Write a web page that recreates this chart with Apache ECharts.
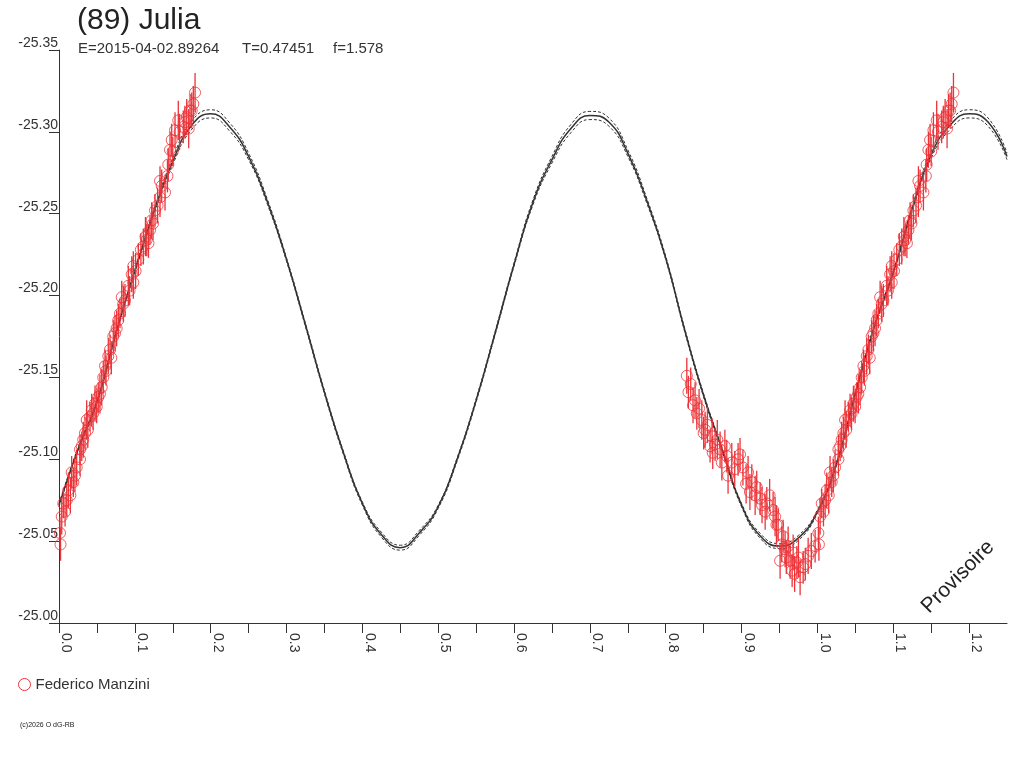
<!DOCTYPE html>
<html>
<head>
<meta charset="utf-8">
<title>(89) Julia</title>
<script src="https://cdn.jsdelivr.net/npm/echarts@6.0.0/dist/echarts.min.js"></script>
<style>
  html, body { margin: 0; padding: 0; background: #fff; }
  #chart { width: 1024px; height: 768px; }
</style>
</head>
<body>
<div id="chart"></div>
<script>
const red = '#ec3338'
const ink = '#333333'
const font = 'Liberation Sans, Arial, sans-serif'

// fitted curve, every 0.025 in phase
const curvePhase = [
  0.000, 0.025, 0.050, 0.075, 0.100, 0.125, 0.150, 0.175, 0.200, 0.225,
  0.250, 0.275, 0.300, 0.325, 0.350, 0.375, 0.400, 0.425, 0.450, 0.475,
  0.500, 0.525, 0.550, 0.575, 0.600, 0.625, 0.650, 0.675, 0.700, 0.725,
  0.750, 0.775, 0.800, 0.825, 0.850, 0.875, 0.900, 0.925, 0.950, 0.975,
  1.000, 1.025, 1.050, 1.075, 1.100, 1.125, 1.150, 1.175, 1.200, 1.225,
  1.250,
]
const curveMag = [
  -25.072, -25.106, -25.135, -25.177, -25.215, -25.251, -25.282, -25.304, -25.311, -25.303,
  -25.285, -25.257, -25.222, -25.182, -25.141, -25.104, -25.073, -25.054, -25.046, -25.055,
  -25.071, -25.100, -25.136, -25.177, -25.219, -25.257, -25.283, -25.302, -25.310, -25.306,
  -25.287, -25.258, -25.223, -25.179, -25.139, -25.105, -25.072, -25.053, -25.047, -25.052,
  -25.068, -25.097, -25.140, -25.181, -25.214, -25.253, -25.286, -25.304, -25.311, -25.306,
  -25.285,
]
// dashed envelope curves
const curveHi = [
  -25.073, -25.107, -25.136, -25.178, -25.216, -25.2525, -25.284, -25.3065, -25.3135, -25.3055,
  -25.287, -25.2585, -25.223, -25.183, -25.142, -25.105, -25.074, -25.0555, -25.0475, -25.0565,
  -25.072, -25.101, -25.137, -25.178, -25.220, -25.2585, -25.285, -25.3045, -25.3125, -25.3085,
  -25.289, -25.2595, -25.224, -25.180, -25.140, -25.106, -25.073, -25.0545, -25.0485, -25.0535,
  -25.069, -25.098, -25.141, -25.182, -25.215, -25.2545, -25.288, -25.3065, -25.3135, -25.3085,
  -25.287,
]
const curveLo = [
  -25.071, -25.105, -25.134, -25.176, -25.214, -25.2495, -25.280, -25.3015, -25.3085, -25.3005,
  -25.283, -25.2555, -25.221, -25.181, -25.140, -25.103, -25.072, -25.0525, -25.0445, -25.0535,
  -25.070, -25.099, -25.135, -25.176, -25.218, -25.2555, -25.281, -25.2995, -25.3075, -25.3035,
  -25.285, -25.2565, -25.222, -25.178, -25.138, -25.104, -25.071, -25.0515, -25.0455, -25.0505,
  -25.067, -25.096, -25.139, -25.180, -25.213, -25.2515, -25.284, -25.3015, -25.3085, -25.3035,
  -25.283,
]

// observations, first night (rising branch)
const phaseA = [
  0.0013, 0.0036, 0.0057, 0.0102, 0.0123, 0.0189, 0.0167, 0.0233, 0.0277, 0.0277,
  0.0320, 0.0343, 0.0365, 0.0409, 0.0431, 0.0475, 0.0497, 0.0518, 0.0563, 0.0584,
  0.0607, 0.0650, 0.0673, 0.0716, 0.0738, 0.0782, 0.0804, 0.0848, 0.0827, 0.0914,
  0.0980, 0.0959, 0.0980, 0.1046, 0.1112, 0.1157, 0.1200, 0.1222, 0.1266, 0.1332,
  0.1354, 0.1398, 0.1332, 0.1441, 0.1464, 0.1486, 0.1530, 0.1573, 0.1639, 0.1684,
  0.1728, 0.1771, 0.1794,
  0.002, 0.008, 0.015, 0.021, 0.030, 0.038, 0.045, 0.054, 0.062, 0.069,
  0.076, 0.087, 0.093, 0.101, 0.108, 0.114, 0.118, 0.124, 0.130, 0.143,
  0.150, 0.159, 0.166, 0.171, 0.175,
]
const magA = [
  -25.055, -25.065, -25.073, -25.075, -25.081, -25.086, -25.092, -25.095, -25.100, -25.106,
  -25.112, -25.116, -25.124, -25.126, -25.130, -25.134, -25.132, -25.138, -25.144, -25.150,
  -25.157, -25.163, -25.167, -25.175, -25.177, -25.185, -25.189, -25.195, -25.199, -25.206,
  -25.208, -25.213, -25.218, -25.222, -25.230, -25.234, -25.240, -25.246, -25.252, -25.260,
  -25.267, -25.263, -25.270, -25.280, -25.289, -25.295, -25.301, -25.307, -25.303, -25.309,
  -25.313, -25.317, -25.324,
  -25.048, -25.068, -25.078, -25.090, -25.108, -25.118, -25.128, -25.140, -25.154, -25.162,
  -25.180, -25.197, -25.203, -25.215, -25.228, -25.236, -25.232, -25.244, -25.255, -25.273,
  -25.288, -25.300, -25.306, -25.302, -25.313,
]
const errA = [
  0.010, 0.011, 0.009, 0.010, 0.011, 0.009, 0.010, 0.011, 0.010, 0.009,
  0.011, 0.010, 0.012, 0.009, 0.010, 0.011, 0.010, 0.009, 0.011, 0.010,
  0.010, 0.011, 0.009, 0.010, 0.011, 0.010, 0.009, 0.011, 0.010, 0.012,
  0.010, 0.011, 0.009, 0.010, 0.011, 0.010, 0.009, 0.011, 0.010, 0.012,
  0.010, 0.011, 0.009, 0.010, 0.011, 0.010, 0.011, 0.012, 0.010, 0.011,
  0.010, 0.011, 0.012,
  0.010, 0.009, 0.011, 0.010, 0.009, 0.011, 0.010, 0.012, 0.009, 0.010,
  0.011, 0.010, 0.009, 0.011, 0.010, 0.012, 0.009, 0.010, 0.011, 0.010,
  0.009, 0.011, 0.010, 0.012, 0.011,
]

// observations, second night (descending branch and minimum)
const phaseB = [
  0.8278, 0.8299, 0.8387, 0.8410, 0.8476, 0.8519, 0.8585, 0.8611, 0.8651, 0.8717,
  0.8805, 0.8822, 0.8871, 0.8954, 0.9018, 0.9086, 0.9135, 0.9179, 0.9245, 0.9311,
  0.9333, 0.9416, 0.9442, 0.9482, 0.9508, 0.9548, 0.9574, 0.9614, 0.9640, 0.9667,
  0.9680, 0.9729, 0.9772, 0.9812, 0.9878, 0.9970,
  0.833, 0.836, 0.844, 0.850, 0.855, 0.862, 0.868, 0.874, 0.878, 0.891,
  0.898, 0.906, 0.911, 0.920, 0.927, 0.937, 0.946, 0.953, 0.959, 0.970,
  0.975, 0.984, 0.992,
]
const magB = [
  -25.151, -25.141, -25.136, -25.128, -25.124, -25.118, -25.108, -25.114, -25.109, -25.106,
  -25.102, -25.090, -25.098, -25.100, -25.095, -25.092, -25.086, -25.078, -25.076, -25.068,
  -25.073, -25.069, -25.065, -25.060, -25.038, -25.053, -25.045, -25.047, -25.038, -25.032,
  -25.043, -25.037, -25.028, -25.034, -25.041, -25.047,
  -25.146, -25.133, -25.131, -25.116, -25.121, -25.104, -25.112, -25.098, -25.108, -25.094,
  -25.103, -25.085, -25.080, -25.083, -25.072, -25.078, -25.060, -25.048, -25.040, -25.030,
  -25.040, -25.036, -25.044,
]
const errB = [
  0.011, 0.010, 0.011, 0.010, 0.012, 0.011, 0.010, 0.011, 0.010, 0.011,
  0.010, 0.011, 0.012, 0.010, 0.011, 0.010, 0.011, 0.012, 0.010, 0.011,
  0.010, 0.011, 0.012, 0.010, 0.011, 0.010, 0.011, 0.012, 0.011, 0.010,
  0.011, 0.010, 0.011, 0.010, 0.011, 0.010,
  0.010, 0.011, 0.012, 0.010, 0.011, 0.010, 0.012, 0.011, 0.010, 0.011,
  0.010, 0.012, 0.011, 0.010, 0.011, 0.010, 0.012, 0.011, 0.010, 0.011,
  0.012, 0.010, 0.011,
]

const xTicks = { min: 0, max: 1.25, step: 0.05 }
const yTicks = { min: -25.35, max: -25.0, step: 0.05 }

function pairs(xs, ys) {
  return xs.map((x, i) => [x, ys[i]])
}

// phase plot: first night is also shown one cycle later
const points = []
phaseA.forEach((p, i) => points.push([p, magA[i], errA[i]]))
phaseB.forEach((p, i) => points.push([p, magB[i], errB[i]]))
phaseA.forEach((p, i) => points.push([p + 1, magA[i], errA[i]]))

const chart = echarts.init(document.getElementById('chart'))

const option = {
  animation: false,
  backgroundColor: '#fff',
  textStyle: { fontFamily: font },
  grid: {
    left: 59,
    right: 17,
    top: 50,
    bottom: 145,
    containLabel: false,
  },
  legend: {
    left: 18,
    top: 677,
    padding: 0,
    itemWidth: 12,
    itemHeight: 12,
    textStyle: { fontSize: 15, color: ink, fontFamily: font },
    data: [
      {
        name: 'Federico Manzini',
        icon: 'circle',
        itemStyle: { color: 'transparent', borderColor: red, borderWidth: 1 },
      },
    ],
  },
  xAxis: {
    type: 'value',
    min: xTicks.min,
    max: xTicks.max,
    interval: xTicks.step,
    splitLine: { show: false },
    axisLine: { onZero: false, lineStyle: { color: ink, width: 1 } },
    axisTick: { length: 10, lineStyle: { color: ink } },
    axisLabel: {
      rotate: -90,
      margin: 10,
      fontSize: 14,
      color: ink,
      verticalAlign: 'bottom',
      showMaxLabel: false,
      formatter: v => (Math.round(v * 100) % 10 === 0 ? v.toFixed(1) : ''),
    },
  },
  yAxis: {
    type: 'value',
    inverse: true,
    min: yTicks.min,
    max: yTicks.max,
    interval: yTicks.step,
    splitLine: { show: false },
    axisLine: { onZero: false, lineStyle: { color: ink, width: 1 } },
    axisTick: { length: 10, lineStyle: { color: ink } },
    axisLabel: {
      margin: 1,
      fontSize: 14,
      color: ink,
      verticalAlign: 'bottom',
      formatter: v => v.toFixed(2),
    },
  },
  graphic: [
    {
      type: 'text',
      left: 77,
      top: 6,
      style: { text: '(89) Julia', font: '30px ' + font, fill: '#222' },
    },
    {
      type: 'text',
      left: 78,
      top: 41,
      style: { text: 'E=2015-04-02.89264', font: '15px ' + font, fill: ink },
    },
    {
      type: 'text',
      left: 242,
      top: 41,
      style: { text: 'T=0.47451', font: '15px ' + font, fill: ink },
    },
    {
      type: 'text',
      left: 333,
      top: 41,
      style: { text: 'f=1.578', font: '15px ' + font, fill: ink },
    },
    {
      type: 'text',
      left: 20,
      top: 722,
      style: { text: '(c)2026 O dG-RB', font: '7px ' + font, fill: '#222' },
    },
    {
      type: 'text',
      x: 958,
      y: 577,
      rotation: Math.PI / 4,
      style: {
        text: 'Provisoire',
        font: '21px ' + font,
        fill: '#222',
        align: 'center',
        verticalAlign: 'middle',
      },
    },
  ],
  series: [
    {
      type: 'line',
      data: pairs(curvePhase, curveHi),
      smooth: true,
      showSymbol: false,
      silent: true,
      lineStyle: { color: ink, width: 1, type: [3, 2] },
      z: 2,
    },
    {
      type: 'line',
      data: pairs(curvePhase, curveLo),
      smooth: true,
      showSymbol: false,
      silent: true,
      lineStyle: { color: ink, width: 1, type: [3, 2] },
      z: 2,
    },
    {
      type: 'line',
      data: pairs(curvePhase, curveMag),
      smooth: true,
      showSymbol: false,
      silent: true,
      lineStyle: { color: ink, width: 1.5 },
      z: 3,
    },
    {
      type: 'custom',
      name: 'Federico Manzini',
      data: points,
      clip: true,
      z: 4,
      renderItem: (params, api) => {
        const x = api.value(0)
        const y = api.value(1)
        const e = api.value(2)
        const p1 = api.coord([x, y - e])
        const p2 = api.coord([x, y + e])
        return {
          type: 'line',
          shape: { x1: p1[0], y1: p1[1], x2: p2[0], y2: p2[1] },
          style: { stroke: red, lineWidth: 1.3 },
        }
      },
    },
    {
      type: 'scatter',
      name: 'Federico Manzini',
      data: points.map(p => [p[0], p[1]]),
      symbol: 'circle',
      symbolSize: 11,
      z: 5,
      itemStyle: { color: 'transparent', borderColor: red, borderWidth: 1 },
    },
  ],
}

chart.setOption(option)
</script>
</body>
</html>
